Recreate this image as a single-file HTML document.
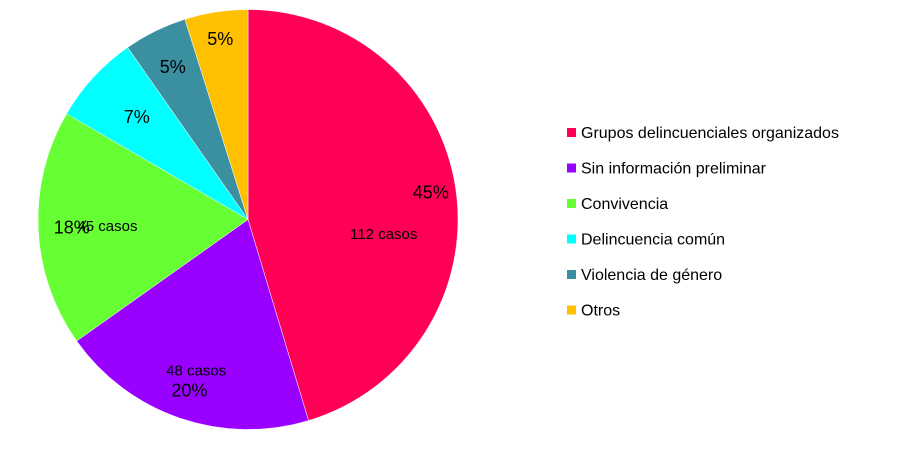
<!DOCTYPE html>
<html><head><meta charset="utf-8"><style>
body{margin:0;background:#fff;width:910px;height:458px;overflow:hidden;font-family:"Liberation Sans",sans-serif}
</style></head><body>
<svg id="chart" width="910" height="458" xmlns="http://www.w3.org/2000/svg"></svg>
<script>
const categories=["Grupos delincuenciales organizados","Sin información preliminar","Convivencia","Delincuencia común","Violencia de género","Otros"];
const values=[112,49,45,17,12,12];
const colors=["#ff0055","#9900ff","#66ff33","#00ffff","#3a8fa0","#ffc000"];
const caseLabels=["112 casos","48 casos","45 casos","","",""];
const svg=document.getElementById('chart');
const NS="http://www.w3.org/2000/svg";
const cx=248,cy=219.5,r=210;
const total=values.reduce((a,b)=>a+b,0);
function pt(frac,rad){const a=frac*2*Math.PI;return [cx+rad*Math.sin(a),cy-rad*Math.cos(a)];}
function mk(tag,attrs){const e=document.createElementNS(NS,tag);for(const k in attrs)e.setAttribute(k,attrs[k]);return e;}
const pctPos=[[0.17,0.88],[0.56,0.86],[0.75,0.84],[0.88,0.72],[0.935,0.81],[0.98,0.87]];
const casePos=[[0.29,0.65],[0.575,0.76],[0.765,0.67]];
let acc=0;
values.forEach((v,i)=>{
  const f0=acc/total,f1=(acc+v)/total;acc+=v;
  const p0=pt(f0,r),p1=pt(f1,r);
  const large=(f1-f0)>0.5?1:0;
  const path=mk('path',{d:`M${cx},${cy}L${p0[0]},${p0[1]}A${r},${r} 0 ${large} 1 ${p1[0]},${p1[1]}Z`,fill:colors[i],stroke:'#fff','stroke-width':0.5});
  
  
  svg.appendChild(path);
});
acc=0;
values.forEach((v,i)=>{
  const f0=acc/total;acc+=v;const fm=f0+(v/total)*0.5;
  const pp=pt(fm,r*pctPos[i][1]);
  const t=mk('text',{x:pp[0],y:pp[1]+6,'font-size':18,'text-anchor':'middle',fill:'#000'});
  t.textContent=Math.round(v/total*100)+'%';
  
  
  svg.appendChild(t);
  if(caseLabels[i]){
    const cp=pt(fm+ (i===0?0.04:0),r*casePos[i][1]);
    const c=mk('text',{x:cp[0],y:cp[1]+5,'font-size':15,'text-anchor':'middle',fill:'#000'});
    c.textContent=caseLabels[i];
    
    
    svg.appendChild(c);
  }
});
categories.forEach((c,i)=>{
  const y=133+i*35.5;
  const g=mk('g',{});
  
  
  g.appendChild(mk('rect',{x:567,y:y-5,width:9,height:9,fill:colors[i]}));
  const t=mk('text',{x:581,y:y+5,'font-size':16,fill:'#000'});
  t.textContent=c;g.appendChild(t);
  svg.appendChild(g);
});
</script>
</body></html>
